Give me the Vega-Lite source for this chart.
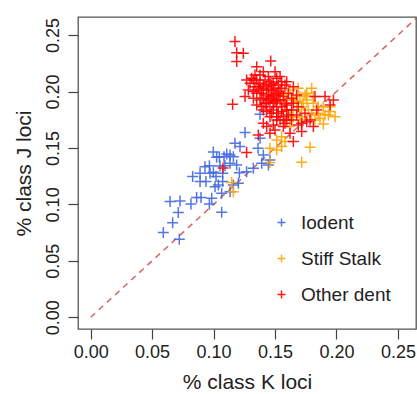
{
  "$schema": "https://vega.github.io/schema/vega-lite/v6.json",
  "width": 338,
  "height": 312,
  "autosize": {"type": "none"},
  "padding": {"left": 78, "top": 17, "right": 1, "bottom": 65},
  "background": "white",
  "config": {
    "view": {"stroke": "#555", "strokeWidth": 1.3},
    "font": "Liberation Sans",
    "axis": {
      "domain": false, "grid": false, "tickColor": "#444", "tickWidth": 1.2, "tickSize": 10,
      "labelFont": "Liberation Sans", "labelFontSize": 18, "labelColor": "#222",
      "titleFont": "Liberation Sans", "titleFontSize": 21, "titleFontWeight": "normal", "titleColor": "#222"
    },
    "legend": {"labelFont": "Liberation Sans", "labelFontSize": 19, "labelColor": "#222"}
  },
  "layer": [
    {
      "data": {"values": [{"k": 0, "j": 0}, {"k": 0.3, "j": 0.3}]},
      "mark": {"type": "line", "color": "#E06060", "strokeDash": [6, 5], "strokeWidth": 1.5, "clip": true},
      "encoding": {
        "x": {"field": "k", "type": "quantitative"},
        "y": {"field": "j", "type": "quantitative"}
      }
    },
    {
      "data": {"values": [
        {"g":"Iodent","k":0.0591,"j":0.0750},{"g":"Iodent","k":0.0667,"j":0.0838},{"g":"Iodent","k":0.0713,"j":0.0927},{"g":"Iodent","k":0.0721,"j":0.0691},
        {"g":"Iodent","k":0.0646,"j":0.1025},{"g":"Iodent","k":0.0727,"j":0.1030},{"g":"Iodent","k":0.0830,"j":0.1246},{"g":"Iodent","k":0.0816,"j":0.1004},
        {"g":"Iodent","k":0.0862,"j":0.1060},{"g":"Iodent","k":0.0898,"j":0.1060},{"g":"Iodent","k":0.0985,"j":0.1054},{"g":"Iodent","k":0.0966,"j":0.1004},
        {"g":"Iodent","k":0.0890,"j":0.1202},{"g":"Iodent","k":0.0938,"j":0.1202},{"g":"Iodent","k":0.0998,"j":0.1464},{"g":"Iodent","k":0.0966,"j":0.1343},
        {"g":"Iodent","k":0.0998,"j":0.1284},{"g":"Iodent","k":0.1020,"j":0.1246},{"g":"Iodent","k":0.1052,"j":0.1340},{"g":"Iodent","k":0.1074,"j":0.1275},
        {"g":"Iodent","k":0.1093,"j":0.1343},{"g":"Iodent","k":0.1107,"j":0.1447},{"g":"Iodent","k":0.1134,"j":0.1438},{"g":"Iodent","k":0.1161,"j":0.1423},
        {"g":"Iodent","k":0.1074,"j":0.1202},{"g":"Iodent","k":0.1039,"j":0.1172},{"g":"Iodent","k":0.1066,"j":0.1098},{"g":"Iodent","k":0.1134,"j":0.1113},
        {"g":"Iodent","k":0.1066,"j":0.0930},{"g":"Iodent","k":0.1188,"j":0.1349},{"g":"Iodent","k":0.1210,"j":0.1281},{"g":"Iodent","k":0.1174,"j":0.1541},
        {"g":"Iodent","k":0.1215,"j":0.1512},{"g":"Iodent","k":0.1256,"j":0.1636},{"g":"Iodent","k":0.1202,"j":0.1187},{"g":"Iodent","k":0.1269,"j":0.1290},
        {"g":"Iodent","k":0.1324,"j":0.1320},{"g":"Iodent","k":0.1362,"j":0.1497},{"g":"Iodent","k":0.1378,"j":0.1585},{"g":"Iodent","k":0.1392,"j":0.1364},
        {"g":"Iodent","k":0.1405,"j":0.1438},{"g":"Iodent","k":0.1378,"j":0.1798},{"g":"Iodent","k":0.1025,"j":0.1417},{"g":"Iodent","k":0.0930,"j":0.1334},
        {"g":"Iodent","k":0.0971,"j":0.1275},{"g":"Iodent","k":0.1012,"j":0.1157},{"g":"Iodent","k":0.1047,"j":0.1423},{"g":"Iodent","k":0.1134,"j":0.1364},
        {"g":"Iodent","k":0.0890,"j":0.1275},{"g":"Iodent","k":0.1161,"j":0.1172},{"g":"Iodent","k":0.1085,"j":0.1423},{"g":"Iodent","k":0.1459,"j":0.1394},
        {"g":"Iodent","k":0.1446,"j":0.1349},
        {"g":"Stiff Stalk","k":0.1147,"j":0.1193},{"g":"Stiff Stalk","k":0.1161,"j":0.1113},{"g":"Stiff Stalk","k":0.1459,"j":0.1370},{"g":"Stiff Stalk","k":0.1459,"j":0.1497},
        {"g":"Stiff Stalk","k":0.1514,"j":0.1482},{"g":"Stiff Stalk","k":0.1554,"j":0.1512},{"g":"Stiff Stalk","k":0.1581,"j":0.1556},{"g":"Stiff Stalk","k":0.1717,"j":0.1373},
        {"g":"Stiff Stalk","k":0.1785,"j":0.1506},{"g":"Stiff Stalk","k":0.1893,"j":0.1712},{"g":"Stiff Stalk","k":0.1934,"j":0.1792},{"g":"Stiff Stalk","k":0.1988,"j":0.1777},
        {"g":"Stiff Stalk","k":0.1852,"j":0.1807},{"g":"Stiff Stalk","k":0.1893,"j":0.1866},{"g":"Stiff Stalk","k":0.1948,"j":0.1866},{"g":"Stiff Stalk","k":0.1703,"j":0.1955},
        {"g":"Stiff Stalk","k":0.1758,"j":0.1984},{"g":"Stiff Stalk","k":0.1812,"j":0.1955},{"g":"Stiff Stalk","k":0.1730,"j":0.1895},{"g":"Stiff Stalk","k":0.1771,"j":0.1836},
        {"g":"Stiff Stalk","k":0.1676,"j":0.1836},{"g":"Stiff Stalk","k":0.1649,"j":0.1925},{"g":"Stiff Stalk","k":0.1595,"j":0.1925},{"g":"Stiff Stalk","k":0.1622,"j":0.2014},
        {"g":"Stiff Stalk","k":0.1689,"j":0.2028},{"g":"Stiff Stalk","k":0.1717,"j":0.1866},{"g":"Stiff Stalk","k":0.1798,"j":0.1792},{"g":"Stiff Stalk","k":0.1866,"j":0.1763},
        {"g":"Stiff Stalk","k":0.1825,"j":0.1748},{"g":"Stiff Stalk","k":0.1649,"j":0.1777},{"g":"Stiff Stalk","k":0.1595,"j":0.1836},{"g":"Stiff Stalk","k":0.1717,"j":0.1748},
        {"g":"Stiff Stalk","k":0.1758,"j":0.1925},{"g":"Stiff Stalk","k":0.1798,"j":0.2028},{"g":"Stiff Stalk","k":0.1568,"j":0.1969},{"g":"Stiff Stalk","k":0.1907,"j":0.1792},
        {"g":"Stiff Stalk","k":0.1948,"j":0.1822},{"g":"Stiff Stalk","k":0.1852,"j":0.1866},{"g":"Stiff Stalk","k":0.1622,"j":0.1689},{"g":"Stiff Stalk","k":0.1554,"j":0.1600},
        {"g":"Stiff Stalk","k":0.1514,"j":0.1571},{"g":"Stiff Stalk","k":0.1703,"j":0.1777},{"g":"Stiff Stalk","k":0.1676,"j":0.1910},{"g":"Stiff Stalk","k":0.1744,"j":0.1969},
        {"g":"Stiff Stalk","k":0.1812,"j":0.1895},{"g":"Stiff Stalk","k":0.1622,"j":0.1777},
        {"g":"Other dent","k":0.1174,"j":0.2442},{"g":"Other dent","k":0.1188,"j":0.2344},{"g":"Other dent","k":0.1242,"j":0.2338},{"g":"Other dent","k":0.1188,"j":0.2265},
        {"g":"Other dent","k":0.1465,"j":0.2270},{"g":"Other dent","k":0.1155,"j":0.1887},{"g":"Other dent","k":0.1256,"j":0.1955},{"g":"Other dent","k":0.1351,"j":0.2220},
        {"g":"Other dent","k":0.1269,"j":0.2102},{"g":"Other dent","k":0.1324,"j":0.2102},{"g":"Other dent","k":0.1405,"j":0.2176},{"g":"Other dent","k":0.1364,"j":0.1615},
        {"g":"Other dent","k":0.1269,"j":0.1459},{"g":"Other dent","k":0.1432,"j":0.1689},{"g":"Other dent","k":0.1500,"j":0.1659},{"g":"Other dent","k":0.1649,"j":0.1556},
        {"g":"Other dent","k":0.1717,"j":0.1645},{"g":"Other dent","k":0.1812,"j":0.1689},{"g":"Other dent","k":0.1825,"j":0.1955},{"g":"Other dent","k":0.1907,"j":0.1955},
        {"g":"Other dent","k":0.1975,"j":0.1925},{"g":"Other dent","k":0.1948,"j":0.1881},{"g":"Other dent","k":0.1595,"j":0.2087},{"g":"Other dent","k":0.1649,"j":0.2043},
        {"g":"Other dent","k":0.1541,"j":0.2132},{"g":"Other dent","k":0.1758,"j":0.1733},{"g":"Other dent","k":0.1689,"j":0.1704},{"g":"Other dent","k":0.1514,"j":0.1748},
        {"g":"Other dent","k":0.1459,"j":0.1777},{"g":"Other dent","k":0.1405,"j":0.1836},{"g":"Other dent","k":0.1378,"j":0.1925},{"g":"Other dent","k":0.1351,"j":0.1984},
        {"g":"Other dent","k":0.1337,"j":0.2043},{"g":"Other dent","k":0.1378,"j":0.2073},{"g":"Other dent","k":0.1432,"j":0.2043},{"g":"Other dent","k":0.1486,"j":0.2073},
        {"g":"Other dent","k":0.1473,"j":0.2014},{"g":"Other dent","k":0.1432,"j":0.1969},{"g":"Other dent","k":0.1514,"j":0.1984},{"g":"Other dent","k":0.1554,"j":0.2028},
        {"g":"Other dent","k":0.1581,"j":0.1895},{"g":"Other dent","k":0.1541,"j":0.1925},{"g":"Other dent","k":0.1486,"j":0.1895},{"g":"Other dent","k":0.1432,"j":0.1895},
        {"g":"Other dent","k":0.1405,"j":0.1940},{"g":"Other dent","k":0.1486,"j":0.1836},{"g":"Other dent","k":0.1554,"j":0.1822},{"g":"Other dent","k":0.1595,"j":0.1748},
        {"g":"Other dent","k":0.1635,"j":0.1836},{"g":"Other dent","k":0.1676,"j":0.1792},{"g":"Other dent","k":0.1717,"j":0.1718},{"g":"Other dent","k":0.1622,"j":0.1630},
        {"g":"Other dent","k":0.1568,"j":0.1689},{"g":"Other dent","k":0.1459,"j":0.1630},{"g":"Other dent","k":0.1405,"j":0.1718},{"g":"Other dent","k":0.1486,"j":0.1704},
        {"g":"Other dent","k":0.1527,"j":0.1807},{"g":"Other dent","k":0.1324,"j":0.1999},{"g":"Other dent","k":0.1297,"j":0.2073},{"g":"Other dent","k":0.1446,"j":0.2132},
        {"g":"Other dent","k":0.1500,"j":0.2176},{"g":"Other dent","k":0.1419,"j":0.2102},{"g":"Other dent","k":0.1608,"j":0.1984},{"g":"Other dent","k":0.1581,"j":0.2058},
        {"g":"Other dent","k":0.1514,"j":0.1925},{"g":"Other dent","k":0.1459,"j":0.1955},{"g":"Other dent","k":0.1378,"j":0.2014},{"g":"Other dent","k":0.1351,"j":0.1881},
        {"g":"Other dent","k":0.1568,"j":0.1955},{"g":"Other dent","k":0.1649,"j":0.1895},{"g":"Other dent","k":0.1689,"j":0.1866},{"g":"Other dent","k":0.1744,"j":0.1807},
        {"g":"Other dent","k":0.1785,"j":0.1748},{"g":"Other dent","k":0.1839,"j":0.1836},{"g":"Other dent","k":0.1077,"j":0.1323},
        {"g":"Other dent","k":0.1446,"j":0.2014},{"g":"Other dent","k":0.1500,"j":0.2028},{"g":"Other dent","k":0.1527,"j":0.1969},{"g":"Other dent","k":0.1473,"j":0.1940},
        {"g":"Other dent","k":0.1419,"j":0.1895},{"g":"Other dent","k":0.1459,"j":0.1866},{"g":"Other dent","k":0.1514,"j":0.1866},{"g":"Other dent","k":0.1554,"j":0.1866},
        {"g":"Other dent","k":0.1595,"j":0.1881},{"g":"Other dent","k":0.1391,"j":0.1984},{"g":"Other dent","k":0.1364,"j":0.2043},{"g":"Other dent","k":0.1405,"j":0.2058},
        {"g":"Other dent","k":0.1459,"j":0.2087},{"g":"Other dent","k":0.1513,"j":0.2117},{"g":"Other dent","k":0.1554,"j":0.2087},{"g":"Other dent","k":0.1432,"j":0.1822},
        {"g":"Other dent","k":0.1473,"j":0.1807},{"g":"Other dent","k":0.1514,"j":0.1777},{"g":"Other dent","k":0.1568,"j":0.1777},{"g":"Other dent","k":0.1608,"j":0.1792},
        {"g":"Other dent","k":0.1486,"j":0.1969},{"g":"Other dent","k":0.1541,"j":0.1999},{"g":"Other dent","k":0.1446,"j":0.1925},{"g":"Other dent","k":0.1500,"j":0.1910},
        {"g":"Other dent","k":0.1405,"j":0.2028},{"g":"Other dent","k":0.1351,"j":0.2102},{"g":"Other dent","k":0.1310,"j":0.2117},{"g":"Other dent","k":0.1283,"j":0.2014},
        {"g":"Other dent","k":0.1324,"j":0.1940},{"g":"Other dent","k":0.1391,"j":0.1866},{"g":"Other dent","k":0.1541,"j":0.1748},{"g":"Other dent","k":0.1581,"j":0.1718},
        {"g":"Other dent","k":0.1635,"j":0.1748},{"g":"Other dent","k":0.1676,"j":0.1969},{"g":"Other dent","k":0.1635,"j":0.1940},{"g":"Other dent","k":0.1595,"j":0.1836},
        {"g":"Other dent","k":0.1337,"j":0.2146},{"g":"Other dent","k":0.1378,"j":0.2146},{"g":"Other dent","k":0.1473,"j":0.2058},{"g":"Other dent","k":0.1527,"j":0.2058}
      ]},
      "mark": {"type": "point", "shape": "M-1,0H1M0,-1V1", "filled": false, "size": 121, "strokeWidth": 1.5, "opacity": 0.9},
      "encoding": {
        "x": {"field": "k", "type": "quantitative", "title": "% class K loci",
              "scale": {"domain": [-0.0103, 0.2647], "nice": false, "zero": false},
              "axis": {"values": [0, 0.05, 0.1, 0.15, 0.2, 0.25], "format": ".2f", "labelPadding": 4, "titlePadding": 10, "labelFlush": false}},
        "y": {"field": "j", "type": "quantitative", "title": "% class J loci",
              "scale": {"domain": [-0.0104, 0.266], "nice": false, "zero": false},
              "axis": {"values": [0, 0.05, 0.1, 0.15, 0.2, 0.25], "format": ".2f", "labelAngle": -90, "labelAlign": "center", "labelBaseline": "bottom", "labelPadding": 6, "titlePadding": 10, "labelFlush": false}},
        "color": {"field": "g", "type": "nominal",
                  "scale": {"domain": ["Iodent", "Stiff Stalk", "Other dent"], "range": ["#4169E1", "#FFA500", "#FF0000"]},
                  "legend": {"title": null, "orient": "none", "legendX": 194, "legendY": 196, "padding": 0,
                             "symbolType": "M-1,0H1M0,-1V1", "symbolSize": 64, "symbolStrokeWidth": 1.5,
                             "labelOffset": 10, "rowPadding": 16}}
      }
    }
  ]
}
